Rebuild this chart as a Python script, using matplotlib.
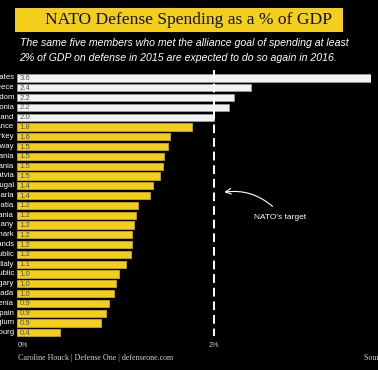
import matplotlib
matplotlib.use("Agg")
import matplotlib.pyplot as plt
from matplotlib.patches import Rectangle

countries = ["United States", "Greece", "United Kingdom", "Estonia", "Poland",
             "France", "Turkey", "Norway", "Lithuania", "Romania", "Latvia",
             "Portugal", "Bulgaria", "Croatia", "Albania", "Germany", "Denmark",
             "Netherlands", "Slovak Republic", "Italy", "Czech Republic",
             "Hungary", "Canada", "Slovenia", "Spain", "Belgium", "Luxembourg"]
values = [3.61, 2.38, 2.21, 2.16, 2.00, 1.78, 1.56, 1.54, 1.49, 1.48, 1.45,
          1.38, 1.35, 1.23, 1.21, 1.19, 1.17, 1.17, 1.16, 1.11, 1.04, 1.01,
          0.99, 0.94, 0.91, 0.85, 0.44]
value_labels = ["3.6", "2.4", "2.2", "2.2", "2.0", "1.8", "1.6", "1.5", "1.5",
                "1.5", "1.5", "1.4", "1.4", "1.2", "1.2", "1.2", "1.2", "1.2",
                "1.2", "1.1", "1.0", "1.0", "1.0", "0.9", "0.9", "0.9", "0.4"]
target = 2.0
tick_values = [0, 2]
tick_labels = ["0%", "2%"]

W, H = 378, 370
fig = plt.figure(figsize=(W / 100, H / 100), dpi=100, facecolor="black")

# title banner
fig.patches.append(Rectangle((15 / W, 1 - 32 / H), (343 - 15) / W, 24 / H,
                             transform=fig.transFigure, facecolor="#F3CE1B",
                             edgecolor="none", zorder=0))
fig.text(189 / W, 1 - 20.5 / H, "NATO Defense Spending as a % of GDP",
         ha="center", va="center", fontsize=12.6, family="Liberation Serif",
         color="#111111")
fig.text(19.5 / W, 1 - 42.5 / H,
         "The same five members who met the alliance goal of spending at least",
         ha="left", va="center", fontsize=7.6, family="Liberation Sans",
         style="italic", color="white")
fig.text(19.5 / W, 1 - 58 / H,
         "2% of GDP on defense in 2015 are expected to do so again in 2016.",
         ha="left", va="center", fontsize=7.6, family="Liberation Sans",
         style="italic", color="white")

ax = fig.add_axes([17 / W, 1 - 350 / H, (371 - 17) / W, 280 / H])
ax.set_facecolor("black")
ax.set_xlim(0, 3.6)
ax.set_ylim(27.76, -0.816)
for s in ax.spines.values():
    s.set_visible(False)
ax.set_xticks([])
ax.set_yticks([])

ys = list(range(len(countries)))
colors = ["#F2F2F2" if v >= target else "#F3CE1B" for v in values]
edges = ["#9a9a9a" if v >= target else "#c9a812" for v in values]
ax.barh(ys, values, height=0.74, color=colors, edgecolor=edges, linewidth=0.6,
        zorder=2)

for y, name, lab in zip(ys, countries, value_labels):
    ax.text(-0.03, y, name, ha="right", va="center", fontsize=5.6,
            family="Liberation Sans", color="white", clip_on=False)
    ax.text(0.025, y + 0.05, lab, ha="left", va="center", fontsize=5.6,
            family="Liberation Sans", color="#555555", zorder=3)

ax.plot([target, target], [-0.85, 26.3], color="white", lw=1.4,
        dashes=(4.5, 2.5), zorder=4, solid_capstyle="butt")

for tv, tl in zip(tick_values, tick_labels):
    ax.text(tv + (0.06 if tv == 0 else 0), 27.3, tl, ha="center", va="center",
            fontsize=5.2, family="Liberation Sans", color="#cccccc")

ax.annotate("", xy=(2.08, 11.7), xytext=(2.62, 13.3),
            arrowprops=dict(arrowstyle="->", color="white", lw=0.8,
                            connectionstyle="arc3,rad=0.25"))
ax.text(2.68, 14.2, "NATO's target", ha="center", va="center", fontsize=6,
        family="Liberation Sans", color="white")

fig.text(18 / W, 1 - 358.5 / H, "Caroline Houck | Defense One | defenseone.com",
         ha="left", va="center", fontsize=5.8, family="Liberation Serif",
         color="#d0d0d0")
fig.text(364 / W, 1 - 358.5 / H, "Source: NATO", ha="left", va="center",
         fontsize=5.8, family="Liberation Serif", color="#d0d0d0")

fig.savefig("out.png", dpi=100, facecolor="black")
